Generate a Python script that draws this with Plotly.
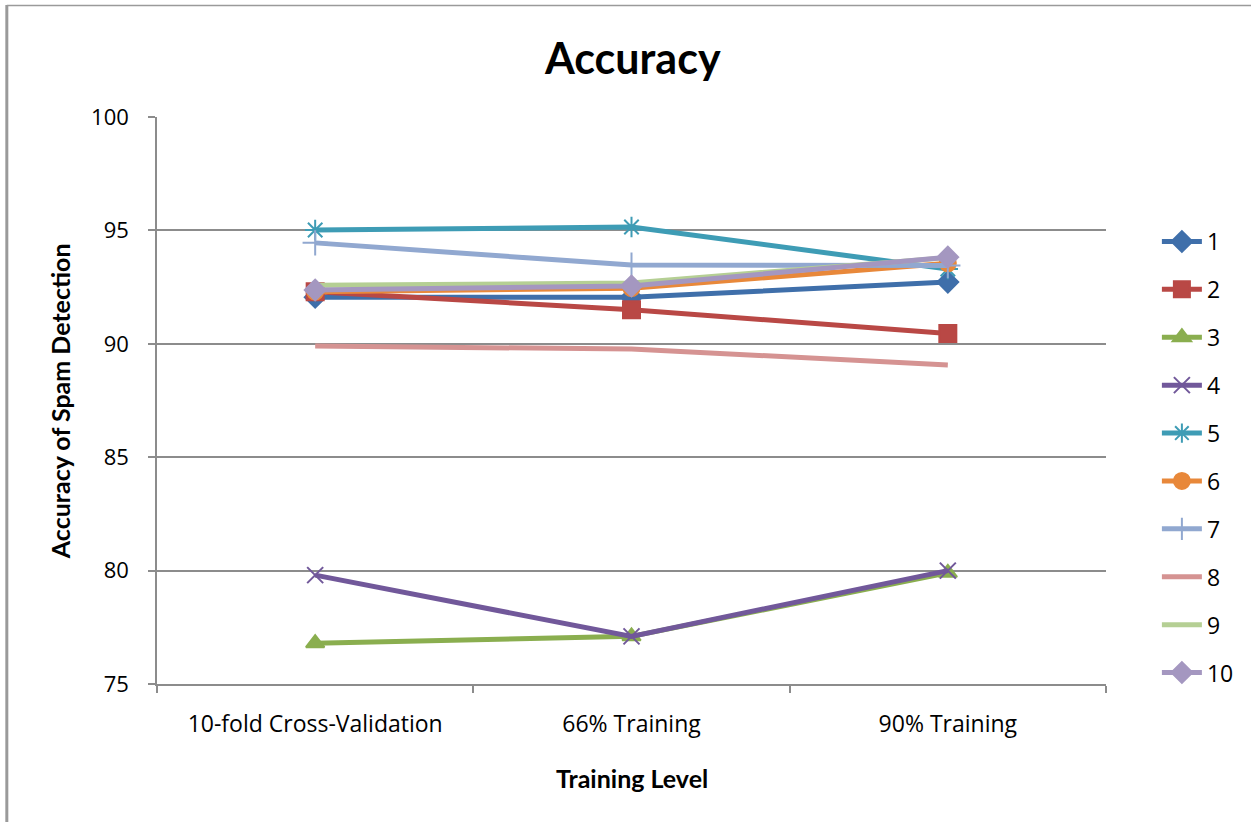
import plotly.graph_objects as go

# Training levels (x categories)
levels = ["10-fold Cross-Validation", "66% Training", "90% Training"]

# Accuracy of spam detection per configuration
s1 = [92.05, 92.05, 92.72]
s2 = [92.3, 91.5, 90.45]
s3 = [76.8, 77.1, 79.9]
s4 = [79.8, 77.1, 80.0]
s5 = [95.02, 95.15, 93.3]
s6 = [92.3, 92.45, 93.55]
s7 = [94.45, 93.47, 93.45]
s8 = [89.9, 89.77, 89.07]
s9 = [92.58, 92.68, 93.8]
s10 = [92.37, 92.55, 93.82]

series_names = ["1", "2", "3", "4", "5", "6", "7", "8", "9", "10"]
series_values = [s1, s2, s3, s4, s5, s6, s7, s8, s9, s10]
colors = ["#3F6FAA", "#B94845", "#8AAE4F", "#71589A", "#3E9CB5",
          "#E8883A", "#91A8D0", "#D59392", "#B5CF94", "#A497C0"]
symbols = ["diamond", "square", "triangle-up", "x-thin-open", "asterisk-open",
           "circle", "cross-thin-open", None, None, "diamond"]
sizes = [16, 17, 16, 16, 17, 16, 18, 0, 0, 16]

y_ticks = [75, 80, 85, 90, 95, 100]

fig = go.Figure()
for name, vals, col, sym, sz in zip(series_names, series_values, colors, symbols, sizes):
    if sym is None:
        mode = "lines"
        marker = dict()
    else:
        mode = "lines+markers"
        marker = dict(symbol=sym, size=sz, color=col,
                      line=dict(color=col, width=2))
    fig.add_trace(go.Scatter(
        x=levels, y=vals, name=name, mode=mode,
        line=dict(color=col, width=5),
        marker=marker, legendgroup=name,
    ))

grid_col = "#8C8C8C"
font_main = "Open Sans"
font_bold = "Lato"

# plot area in pixels: left 157, right 1108, top 117, bottom 684
W, H = 1251, 822
L, R, T, B = 157, 1108, 117, 684
pw, ph = R - L, B - T


def px_x(p):
    return (p - L) / pw


def px_y(p):
    return (B - p) / ph


fig.update_layout(
    width=W, height=H,
    margin=dict(l=L, r=W - R, t=T, b=H - B),
    paper_bgcolor="white", plot_bgcolor="white",
    showlegend=True,
    legend=dict(
        x=px_x(1159), y=px_y(220), xanchor="left", yanchor="top",
        font=dict(family=font_main, size=23, color="black"),
        tracegroupgap=15, itemwidth=40,
        bgcolor="rgba(0,0,0,0)",
    ),
    xaxis=dict(
        type="category", range=[-0.5, 2.5],
        showline=True, linecolor=grid_col, linewidth=1.5,
        ticks="outside", tickson="boundaries", ticklen=7, tickcolor=grid_col,
        tickwidth=1.5, showgrid=False,
        tickfont=dict(family=font_main, size=23, color="black"),
        ticklabelstandoff=19,
    ),
    yaxis=dict(
        range=[75, 100], tickvals=y_ticks,
        showline=True, linecolor=grid_col, linewidth=1.5,
        ticks="outside", ticklen=7, tickcolor=grid_col, tickwidth=1.5,
        showgrid=True, gridcolor=grid_col, gridwidth=1.5,
        zeroline=False,
        tickfont=dict(family=font_main, size=22, color="black"),
        ticklabelstandoff=15,
    ),
    annotations=[
        dict(text="<b>Accuracy</b>", x=px_x(634), y=px_y(58), xref="paper", yref="paper",
             showarrow=False, font=dict(family=font_bold, size=43, color="black"),
             xanchor="center", yanchor="middle"),
        dict(text="<b>Training Level</b>", x=px_x(633), y=px_y(778), xref="paper", yref="paper",
             showarrow=False, font=dict(family=font_bold, size=25, color="black"),
             xanchor="center", yanchor="middle"),
        dict(text="<b>Accuracy of Spam Detection</b>", x=px_x(60), y=px_y(401),
             xref="paper", yref="paper", textangle=-90,
             showarrow=False, font=dict(family=font_bold, size=25, color="black"),
             xanchor="center", yanchor="middle"),
    ],
    shapes=[
        dict(type="line", xref="paper", yref="paper",
             x0=px_x(6.5), x1=px_x(W + 5), y0=px_y(5.5), y1=px_y(5.5),
             line=dict(color="#9A9A9A", width=1.5)),
        dict(type="line", xref="paper", yref="paper",
             x0=px_x(6.5), x1=px_x(6.5), y0=px_y(5), y1=px_y(H + 5),
             line=dict(color="#9A9A9A", width=3)),
    ],
)

fig.write_html("out.html")
